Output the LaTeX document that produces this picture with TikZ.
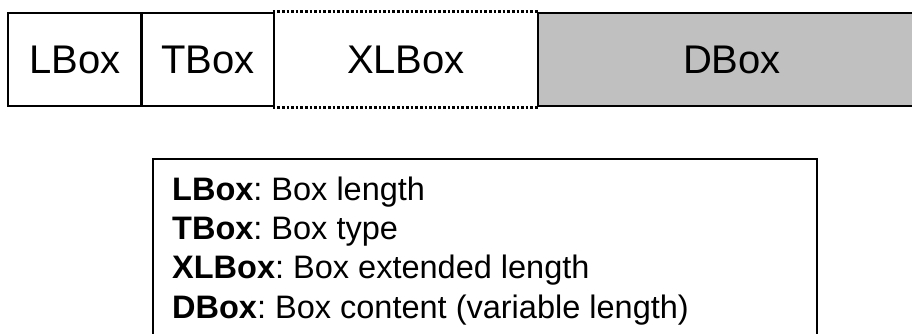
\documentclass[tikz,border=0pt]{standalone}
\usepackage{fontspec}
\setmainfont{Liberation Sans}
\frenchspacing
\begin{document}
\begin{tikzpicture}[x=1pt,y=1pt,
  fieldbox/.style={draw=black, line width=2.6pt, inner sep=0pt, minimum height=93pt,
    font=\fontsize{40}{48}\selectfont},
  legendframe/.style={draw=black, line width=2.2pt, inner sep=0pt, minimum width=664pt, minimum height=200pt},
  legendtext/.style={inner sep=0pt, align=left, anchor=north west,
    font=\fontsize{32.5}{39.3}\selectfont\frenchspacing}]
\useasboundingbox (0,0) rectangle (912,334);
% fields (XLBox first so neighbours' solid edges cover its sides)
\node[fieldbox, draw=none, minimum width=264pt] (xl) at (406,274.5) {XLBox};
\draw[line width=2.6pt, dotted] (xl.north west) -- (xl.north east);
\draw[line width=2.6pt, dotted] (xl.south west) -- (xl.south east);
\node[fieldbox, minimum width=133.5pt] (lb) at (74.75,274.5) {LBox};
\node[fieldbox, minimum width=132.5pt] (tb) at (207.75,274.5) {TBox};
\node[fieldbox, fill={rgb,255:red,192;green,192;blue,192}, minimum width=388pt] (db) at (732,274.5) {DBox};
% legend
\node[legendframe] (lg) at (485,75) {};
\node[legendtext] (lt) at (172,157.5) {\textbf{LBox}: Box length\\
\textbf{TBox}: Box type\\
\textbf{XLBox}: Box extended length\\
\textbf{DBox}: Box content (variable length)};
\end{tikzpicture}
\end{document}
